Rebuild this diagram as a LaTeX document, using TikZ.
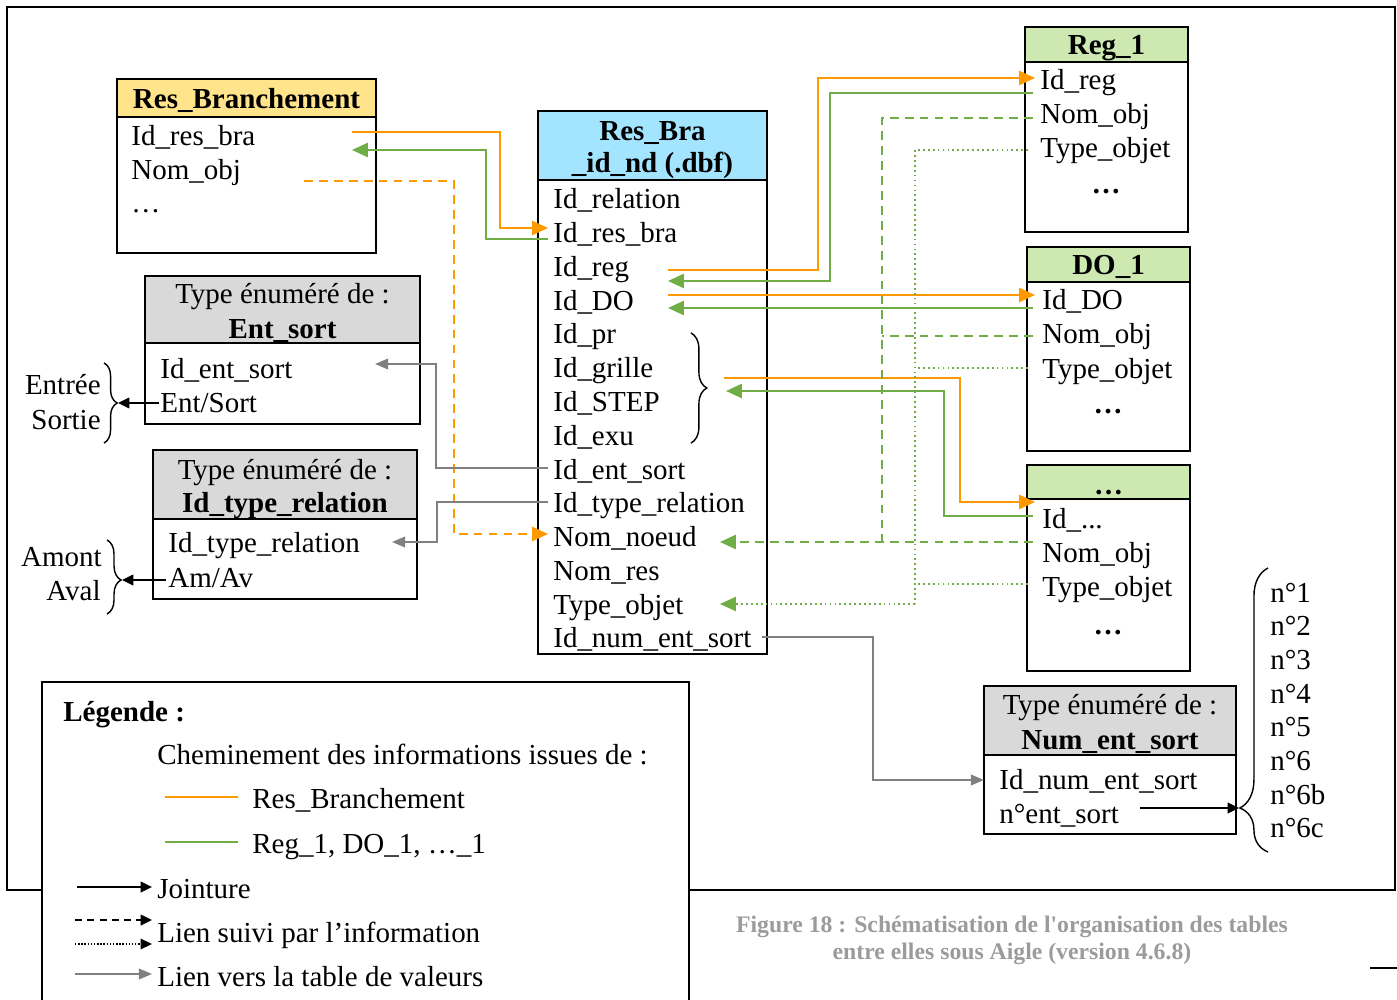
\documentclass[tikz,border=0pt]{standalone}
\usepackage{fontspec}
\setmainfont{Liberation Serif}
\newfontfamily\capfont{Liberation Serif}
\usetikzlibrary{arrows.meta,decorations.pathreplacing,calc}
\definecolor{orangec}{RGB}{255,153,0}
\definecolor{greenc}{RGB}{112,173,71}
\definecolor{grayc}{RGB}{128,128,128}
\definecolor{yellowc}{RGB}{255,228,140}
\definecolor{cyanc}{RGB}{163,229,255}
\definecolor{lgreenc}{RGB}{206,232,178}
\definecolor{lgrayc}{RGB}{217,217,217}
\definecolor{captc}{RGB}{155,155,155}
\begin{document}
\begin{tikzpicture}[x=0.02cm,y=-0.02cm,
  font=\fontsize{16.5}{19}\selectfont,
  tbl/.style={draw,line width=1.2pt},
  row/.style={anchor=base west,inner sep=0pt},
  hdr/.style={anchor=base,inner sep=0pt,font=\fontsize{16.5}{19}\selectfont\bfseries},
  ctr/.style={anchor=base,inner sep=0pt},
  conn/.style={line width=1.25pt},
  org/.style={conn,draw=orangec},
  grn/.style={conn,draw=greenc},
  gry/.style={conn,draw=grayc},
  blk/.style={line width=1.2pt,draw=black},
  tipc/.style={-{Triangle[length=9pt,width=8pt]}},
  tipg/.style={-{Triangle[length=7.5pt,width=6pt]}},
  tipb/.style={-{Triangle[length=6.5pt,width=6pt]}},
  dsh/.style={dash pattern=on 5pt off 3.5pt},
  dot/.style={dash pattern=on 1pt off 1.8pt},
  brc/.style={decorate,line width=0.8pt},
]
\path[use as bounding box] (0,0) rectangle (1397,1000);
% outer frame
\draw[line width=1.2pt] (7,7) rectangle (1395,890);

% Res_Branchement
\draw[tbl,fill=yellowc] (117,79) rectangle (376,117);
\draw[tbl] (117,117) rectangle (376,253);
\node[hdr] (rbT) at (246.5,109) {Res\_Branchement};
\node[row] (rb1) at (131,146) {Id\_res\_bra};
\node[row] (rb2) at (131,180) {Nom\_obj};
\node[row] (rb3) at (131,213) {…};

% Res_Bra _id_nd
\draw[tbl,fill=cyanc] (538,111) rectangle (767,180);
\draw[tbl] (538,180) rectangle (767,654);
\node[hdr] (rrT1) at (652.5,141) {Res\_Bra};
\node[hdr] (rrT2) at (652.5,173) {\_id\_nd (.dbf)};
\foreach \t [count=\i from 0] in {Id\_relation,Id\_res\_bra,Id\_reg,Id\_DO,Id\_pr,Id\_grille,Id\_STEP,Id\_exu,Id\_ent\_sort,Id\_type\_relation,Nom\_noeud,Nom\_res,Type\_objet,Id\_num\_ent\_sort}
  \node[row] (rr\i) at (553,209+33.75*\i) {\t};
\draw[brc,decoration={brace,amplitude=9pt}] (691,333) -- (691,443);

% Reg_1
\draw[tbl,fill=lgreenc] (1025,27) rectangle (1188,62);
\draw[tbl] (1025,62) rectangle (1188,232);
\node[hdr] (rgT) at (1106.5,55) {Reg\_1};
\node[row] (rg1) at (1040,90) {Id\_reg};
\node[row] (rg2) at (1040,124) {Nom\_obj};
\node[row] (rg3) at (1040,158) {Type\_objet};
\node[hdr] (rg4) at (1106,194) {…};

% DO_1
\draw[tbl,fill=lgreenc] (1027,247) rectangle (1190,282);
\draw[tbl] (1027,282) rectangle (1190,451);
\node[hdr] (doT) at (1108.5,275) {DO\_1};
\node[row] (do1) at (1042,310) {Id\_DO};
\node[row] (do2) at (1042,344) {Nom\_obj};
\node[row] (do3) at (1042,378) {Type\_objet};
\node[hdr] (do4) at (1108,414) {…};

% ... table
\draw[tbl,fill=lgreenc] (1027,465) rectangle (1190,499);
\draw[tbl] (1027,499) rectangle (1190,671);
\node[hdr] (etT) at (1108.5,494) {…};
\node[row] (et1) at (1042,528) {Id\_...};
\node[row] (et2) at (1042,562) {Nom\_obj};
\node[row] (et3) at (1042,596) {Type\_objet};
\node[hdr] (et4) at (1108,634) {…};

% Ent_sort
\draw[tbl,fill=lgrayc] (145,276) rectangle (420,343);
\draw[tbl] (145,343) rectangle (420,424);
\node[ctr] (esT1) at (282.5,304) {Type énuméré de :};
\node[hdr] (esT2) at (282.5,338) {Ent\_sort};
\node[row] (es1) at (160,378) {Id\_ent\_sort};
\node[row] (es2) at (160,412) {Ent/Sort};

% Id_type_relation
\draw[tbl,fill=lgrayc] (153,450) rectangle (417,519);
\draw[tbl] (153,519) rectangle (417,599);
\node[ctr] (trT1) at (285,479) {Type énuméré de :};
\node[hdr] (trT2) at (285,512) {Id\_type\_relation};
\node[row] (tr1) at (168,552) {Id\_type\_relation};
\node[row] (tr2) at (168,587) {Am/Av};

% Num_ent_sort
\draw[tbl,fill=lgrayc] (984,686) rectangle (1236,755);
\draw[tbl] (984,755) rectangle (1236,834);
\node[ctr] (nsT1) at (1110,714) {Type énuméré de :};
\node[hdr] (nsT2) at (1110,749) {Num\_ent\_sort};
\node[row] (ns1) at (999,789) {Id\_num\_ent\_sort};
\node[row] (ns2) at (999,823) {n°ent\_sort};

% value lists with braces
\node[anchor=base east,inner sep=0pt] (ve1) at (101,395) {Entrée};
\node[anchor=base east,inner sep=0pt] (ve2) at (101,429) {Sortie};
\draw[brc,decoration={brace,amplitude=7.5pt}] (104,363) -- (104,443);
\coordinate (tipES) at (118,403);
\coordinate (srcES) at (159,403);
\draw[blk,tipb] (srcES) -- (tipES);

\node[anchor=base east,inner sep=0pt] (va1) at (102,566) {Amont};
\node[anchor=base east,inner sep=0pt] (va2) at (101,600) {Aval};
\draw[brc,decoration={brace,amplitude=8pt,aspect=0.54}] (107,540) -- (107,614);
\coordinate (tipAA) at (122,580);
\coordinate (srcAA) at (166,580);
\draw[blk,tipb] (srcAA) -- (tipAA);

\foreach \t [count=\i from 0] in {n°1,n°2,n°3,n°4,n°5,n°6,n°6b,n°6c}
  \node[row] (nv\i) at (1270,602+33.7*\i) {\t};
\draw[brc,decoration={brace,amplitude=16pt,aspect=0.155}] (1268,852) -- (1268,568);
\coordinate (tipNS) at (1239,808);
\coordinate (srcNS) at (1140,808);
\draw[blk,tipb] (srcNS) -- (tipNS);

% connectors Res_Branchement <-> Res_Bra
\coordinate (a1) at (352,132); \coordinate (a2) at (548,228);
\draw[org,tipc] (a1) -| (500,228) -- (a2);
\coordinate (b1) at (548,239); \coordinate (b2) at (352,150);
\draw[grn,tipc] (b1) -| (486,150) -- (b2);
\coordinate (c1) at (304,181); \coordinate (c2) at (548,534);
\draw[org,dsh,tipc] (c1) -| (454,534) -- (c2);

% Res_Bra <-> Reg_1
\coordinate (d1) at (668,270); \coordinate (d2) at (1035,78);
\draw[org,tipc] (d1) -| (818,78) -- (d2);
\coordinate (e1) at (1033,93); \coordinate (e2) at (668,281);
\draw[grn,tipc] (e1) -| (830,281) -- (e2);
% Res_Bra <-> DO_1
\coordinate (f1) at (668,295); \coordinate (f2) at (1035,295);
\draw[org,tipc] (f1) -- (f2);
\coordinate (g1) at (1033,308); \coordinate (g2) at (668,308);
\draw[grn,tipc] (g1) -- (g2);
% Res_Bra <-> ...
\coordinate (h1) at (724,378); \coordinate (h2) at (1035,502);
\draw[org,tipc] (h1) -| (960,502) -- (h2);
\coordinate (i1) at (1033,516); \coordinate (i2) at (726,391);
\draw[grn,tipc] (i1) -| (944,391) -- (i2);

% Nom_obj -> Nom_noeud (dashed)
\coordinate (j1) at (1033,118); \coordinate (j2) at (1033,336);
\coordinate (j3) at (1033,542); \coordinate (j4) at (720,542);
\draw[grn,dsh] (j1) -| (882,542);
\draw[grn,dsh] (j2) -- (882,336);
\draw[grn,dsh,tipc] (j3) -- (j4);
% Type_objet -> Type_objet (dotted)
\coordinate (k1) at (1028,150); \coordinate (k2) at (1028,368);
\coordinate (k3) at (1028,584); \coordinate (k4) at (720,604);
\draw[grn,dot,line width=1pt] (k1) -| (915,604);
\draw[grn,dot,line width=1pt] (k2) -- (915,368);
\draw[grn,dot,line width=1pt] (k3) -- (915,584);
\draw[grn,dot,line width=1pt,tipc] (915,604) -- (k4);

% gray links to value tables
\coordinate (l1) at (548,468); \coordinate (l2) at (375,364);
\draw[gry,tipg] (l1) -| (436,364) -- (l2);
\coordinate (m1) at (548,502); \coordinate (m2) at (392,542);
\draw[gry,tipg] (m1) -| (437,542) -- (m2);
\coordinate (n1) at (762,637); \coordinate (n2) at (984,780);
\draw[gry,tipg] (n1) -| (873,780) -- (n2);

% legend
\fill[white] (42,682) rectangle (689,1000);
\draw[line width=1pt] (42,1000) -- (42,682) -- (689,682) -- (689,1000);
\node[row,font=\fontsize{16.5}{19}\selectfont\bfseries] (lg0) at (63,721) {Légende :};
\node[row] (lg1) at (157,764) {Cheminement des informations issues de :};
\coordinate (lo1) at (165,797); \coordinate (lo2) at (238,797);
\draw[org] (lo1) -- (lo2);
\node[row] (lg2) at (252,808) {Res\_Branchement};
\coordinate (lv1) at (165,842); \coordinate (lv2) at (238,842);
\draw[grn] (lv1) -- (lv2);
\node[row] (lg3) at (252,853) {Reg\_1, DO\_1, …\_1};
\coordinate (lj1) at (77,887); \coordinate (lj2) at (152,887);
\draw[blk,tipb] (lj1) -- (lj2);
\node[row] (lg4) at (157,898) {Jointure};
\coordinate (ld1) at (75,920); \coordinate (ld2) at (152,920);
\draw[blk,dash pattern=on 4pt off 3pt,tipb] (ld1) -- (ld2);
\coordinate (lt1) at (75,944); \coordinate (lt2) at (152,944);
\draw[line width=0.9pt,dash pattern=on 0.8pt off 1pt,tipb] (lt1) -- (lt2);
\node[row] (lg5) at (157,942) {Lien suivi par l’information};
\coordinate (lgr1) at (75,974); \coordinate (lgr2) at (152,974);
\draw[gry,tipg] (lgr1) -- (lgr2);
\node[row] (lg6) at (157,986) {Lien vers la table de valeurs};

% caption
\node[ctr,text=captc,font=\capfont\fontsize{13.5}{16}\selectfont\bfseries] (cap1) at (1012,932) {Figure 18 : Schématisation de l'organisation des tables};
\node[ctr,text=captc,font=\capfont\fontsize{13.5}{16}\selectfont\bfseries] (cap2) at (1012,959) {entre elles sous Aigle (version 4.6.8)};
\coordinate (sl1) at (1370,968); \coordinate (sl2) at (1397,968);
\draw[line width=1.1pt] (sl1) -- (sl2);
\end{tikzpicture}
\end{document}
